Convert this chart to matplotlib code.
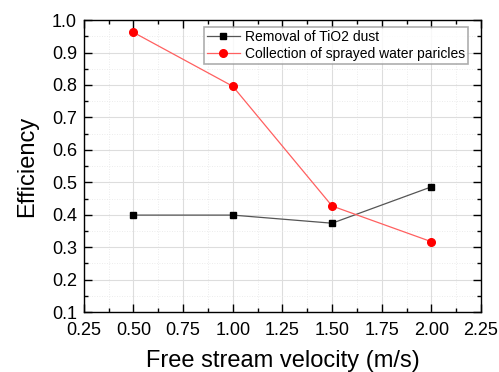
import matplotlib
matplotlib.use("Agg")
import matplotlib.pyplot as plt
from matplotlib.ticker import MultipleLocator

plt.rcParams['font.family'] = ['Liberation Sans', 'DejaVu Sans']

velocity = [0.5, 1.0, 1.5, 2.0]
removal_tio2 = [0.399, 0.399, 0.374, 0.486]
collection_water = [0.962, 0.796, 0.427, 0.317]
series_labels = ["Removal of TiO2 dust", "Collection of sprayed water paricles"]

fig = plt.figure(figsize=(4.99, 3.72), dpi=100)
ax = fig.add_axes([0.168, 0.161, 0.796, 0.785])

ax.plot(velocity, removal_tio2, color='#555555', lw=0.9, marker='s', ms=5,
        mfc='black', mec='black', label=series_labels[0], zorder=3)
ax.plot(velocity, collection_water, color='#ff6060', lw=0.9, marker='o', ms=5.5,
        mfc='red', mec='red', label=series_labels[1], zorder=3)

ax.set_xlim(0.25, 2.25)
ax.set_ylim(0.1, 1.0)
ax.xaxis.set_major_locator(MultipleLocator(0.25))
ax.xaxis.set_minor_locator(MultipleLocator(0.125))
ax.yaxis.set_major_locator(MultipleLocator(0.1))
ax.yaxis.set_minor_locator(MultipleLocator(0.05))
ax.xaxis.set_major_formatter(plt.FuncFormatter(lambda v, p: f"{v:.2f}"))
ax.yaxis.set_major_formatter(plt.FuncFormatter(lambda v, p: f"{v:.1f}"))

ax.grid(which='major', color='#dddddd', lw=0.8, zorder=0)
ax.grid(which='minor', color='#e6e6e6', lw=0.6, ls=(0, (1, 2)), zorder=0)

ax.tick_params(which='both', direction='in', top=True, right=True, labelsize=13, width=1.0)
ax.tick_params(axis='x', which='major', pad=7)
ax.tick_params(axis='y', which='major', pad=5)
ax.tick_params(which='major', length=6)
ax.tick_params(which='minor', length=3)
for s in ax.spines.values():
    s.set_linewidth(1.0)

ax.set_xlabel("Free stream velocity (m/s)", fontsize=17, labelpad=8)
ax.set_ylabel("Efficiency", fontsize=17, labelpad=10)

leg = ax.legend(loc='upper right', bbox_to_anchor=(0.975, 0.985), fontsize=10, frameon=True,
                fancybox=False, edgecolor='#999999', handlelength=2.4, borderpad=0.2,
                labelspacing=0.2, handletextpad=0.4, borderaxespad=0.2)
leg.get_frame().set_linewidth(1.2)

fig.savefig("out.png", dpi=100)
